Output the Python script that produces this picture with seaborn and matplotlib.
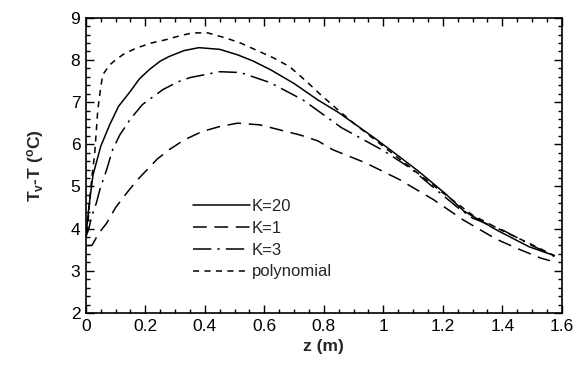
import numpy as np
import pandas as pd
import matplotlib
matplotlib.use("Agg")
import matplotlib.pyplot as plt
import seaborn as sns
from matplotlib.ticker import MultipleLocator, FormatStrFormatter

# data
z_k20 = [0.0, 0.01, 0.024, 0.05, 0.08, 0.11, 0.148, 0.18, 0.215, 0.25, 0.28, 0.33, 0.38,
         0.45, 0.51, 0.56, 0.62, 0.70, 0.78, 0.85, 0.89, 0.97, 1.055, 1.12, 1.21, 1.27,
         1.38, 1.49, 1.575]
t_k20 = [3.8, 4.5, 5.27, 5.95, 6.46, 6.9, 7.24, 7.55, 7.78, 7.97, 8.08, 8.22, 8.29,
         8.25, 8.12, 7.98, 7.77, 7.44, 7.05, 6.75, 6.55, 6.15, 5.70, 5.35, 4.82, 4.42,
         3.97, 3.57, 3.36]

z_k1 = [0.005, 0.02, 0.03, 0.04, 0.05, 0.07, 0.1, 0.138, 0.17, 0.205, 0.24, 0.28, 0.33,
        0.39, 0.45, 0.51, 0.585, 0.675, 0.72, 0.78, 0.83, 0.94, 1.055, 1.17, 1.27, 1.38,
        1.46, 1.53, 1.56]
t_k1 = [3.6, 3.6, 3.72, 3.85, 3.95, 4.13, 4.5, 4.85, 5.13, 5.39, 5.65, 5.87, 6.1,
        6.3, 6.42, 6.5, 6.46, 6.3, 6.22, 6.08, 5.87, 5.56, 5.16, 4.68, 4.2, 3.75,
        3.5, 3.3, 3.24]

z_k3 = [0.0, 0.01, 0.02, 0.035, 0.047, 0.07, 0.09, 0.114, 0.15, 0.19, 0.26, 0.31, 0.35,
        0.45, 0.52, 0.62, 0.73, 0.86, 0.93, 1.0, 1.09, 1.19, 1.25, 1.3, 1.4, 1.5, 1.575]
t_k3 = [3.8, 4.0, 4.3, 4.6, 4.92, 5.4, 5.87, 6.22, 6.6, 6.94, 7.3, 7.48, 7.58,
        7.72, 7.7, 7.46, 7.05, 6.39, 6.12, 5.85, 5.44, 4.85, 4.5, 4.25, 3.97, 3.6, 3.34]

z_poly = [0.005, 0.013, 0.02, 0.03, 0.04, 0.05, 0.057, 0.08, 0.10, 0.13, 0.17, 0.22, 0.27,
          0.32, 0.36, 0.41, 0.47, 0.52, 0.57, 0.63, 0.685, 0.74, 0.79, 0.85, 0.9, 1.0,
          1.1, 1.2, 1.3, 1.4, 1.5, 1.575]
t_poly = [3.9, 4.7, 5.2, 5.8, 6.8, 7.35, 7.65, 7.88, 8.0, 8.15, 8.28, 8.4, 8.48,
          8.58, 8.64, 8.64, 8.52, 8.4, 8.24, 8.05, 7.84, 7.5, 7.17, 6.8, 6.5, 5.95,
          5.4, 4.85, 4.32, 3.95, 3.62, 3.36]

labels = ["K=20", "K=1", "K=3", "polynomial"]

sns.set_style("ticks")
plt.rcParams["font.family"] = ["Liberation Sans", "DejaVu Sans"]
plt.rcParams["mathtext.fontset"] = "custom"
plt.rcParams["mathtext.rm"] = "Liberation Sans:bold"
plt.rcParams["mathtext.it"] = "Liberation Sans:bold"
plt.rcParams["mathtext.default"] = "rm"

fig = plt.figure(figsize=(5.84, 3.65), dpi=100)
ax = fig.add_axes([0.147, 0.1425, 0.815, 0.809])

series = [
    (z_k20, t_k20, labels[0], None),
    (z_k1, t_k1, labels[1], (9, 5)),
    (z_k3, t_k3, labels[2], (12, 4, 1.5, 4)),
    (z_poly, t_poly, labels[3], (4, 3.5)),
]
for z, t, lab, dash in series:
    df = pd.DataFrame({"z": z, "T": t})
    sns.lineplot(data=df, x="z", y="T", ax=ax, color="black", lw=1.1,
                 label=lab, sort=False)
    if dash is not None:
        ax.lines[-1].set_dashes(dash)

ax.set_xlim(0, 1.6)
ax.set_ylim(2, 9)
ax.xaxis.set_major_locator(MultipleLocator(0.2))
ax.xaxis.set_minor_locator(MultipleLocator(0.05))
ax.xaxis.set_major_formatter(FormatStrFormatter("%g"))
ax.yaxis.set_major_locator(MultipleLocator(1))
ax.yaxis.set_minor_locator(MultipleLocator(0.2))
ax.tick_params(which="both", direction="in", top=True, right=True, width=1.0,
               labelsize=12.5, colors="black")
ax.tick_params(which="major", length=6, pad=4)
ax.tick_params(which="minor", length=3)
for s in ax.spines.values():
    s.set_linewidth(1.2)
    s.set_color("black")

ax.set_xlabel("z (m)", fontsize=12.5, fontweight="bold", labelpad=4)
ax.set_ylabel(r"T$_v$-T ($^o$C)", fontsize=12.5, fontweight="bold", labelpad=18)

ax.legend(loc="upper left", bbox_to_anchor=(0.194, 0.437), frameon=False,
          fontsize=12, handlelength=3.4, handletextpad=0.1, labelspacing=0.41)

fig.savefig("out.png", dpi=100)
